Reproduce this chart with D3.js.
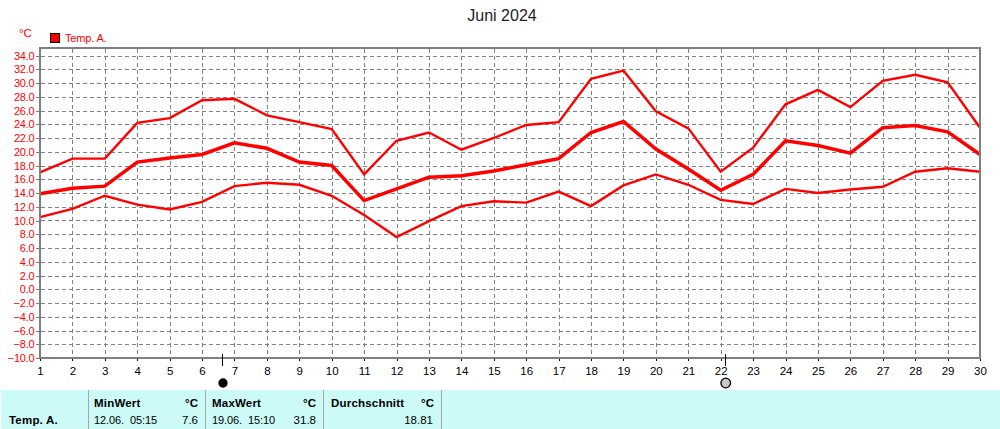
<!DOCTYPE html>
<html><head><meta charset="utf-8">
<script src="https://cdn.jsdelivr.net/npm/d3@7/dist/d3.min.js"></script>
<style>html,body{margin:0;padding:0;background:#fff;overflow:hidden}svg{display:block}text{font-family:"Liberation Sans",Arial,sans-serif}</style>
</head><body><svg id="c" width="1000" height="429"></svg>
<script>
const days = d3.range(1, 31);
const maxValues = [17,19,19,24.2,24.9,27.5,27.7,25.3,24.3,23.3,16.7,21.6,22.8,20.3,22,23.9,24.3,30.6,31.8,25.9,23.4,17.1,20.6,26.9,29,26.5,30.3,31.2,30.1,23.5];
const meanValues = [13.9,14.7,15,18.5,19.1,19.6,21.3,20.5,18.5,18,12.9,14.6,16.3,16.5,17.2,18.1,19,22.8,24.4,20.4,17.5,14.4,16.7,21.6,20.9,19.8,23.5,23.8,22.9,19.6];
const minValues = [10.5,11.7,13.6,12.3,11.6,12.7,15,15.5,15.2,13.6,10.8,7.6,9.9,12.1,12.8,12.6,14.2,12.1,15.1,16.7,15.2,13,12.4,14.6,14,14.5,14.9,17.1,17.6,17.1];
const yTicks = d3.range(-10, 36, 2).reverse();
const markers = [{day:6.63, fill:"#000", r:4},{day:22.14, fill:"#c8c8c8", r:4.8}];
const summaryHeads = [
 {t:"MinWert", x:94, unit:"°C", ux:198},
 {t:"MaxWert", x:212, unit:"°C", ux:316},
 {t:"Durchschnitt", x:331, unit:"°C", ux:434}];
const summaryRows = [
 {t:"12.06.  05:15", x:94, v:"7.6", vx:198},
 {t:"19.06.  15:10", x:212, v:"31.8", vx:316},
 {t:"", x:330, v:"18.81", vx:433}];
const dividers = [88,205,323,441];

const svg = d3.select("#c");
const x = d3.scaleLinear().domain([1,30]).range([40,980]);
const y = d3.scaleLinear().domain([-10,34]).range([358,55.5]);
const RED = "#ff0000", GRID="#808080";

svg.append("text").attr("x",502).attr("y",21).attr("text-anchor","middle").attr("font-size",16).attr("fill","#222").text("Juni 2024");
svg.append("text").attr("x",19).attr("y",37).attr("font-size",11.5).attr("fill",RED).text("°C");
svg.append("rect").attr("x",50.5).attr("y",33.5).attr("width",9).attr("height",9).attr("fill",RED).attr("stroke","#000");
svg.append("text").attr("x",65).attr("y",42).attr("font-size",11).attr("letter-spacing","-0.15").attr("fill",RED).text("Temp. A.");

// grid
const g = svg.append("g").attr("stroke",GRID).attr("stroke-dasharray","4 3").attr("shape-rendering","crispEdges");
g.selectAll("line.h").data(yTicks.filter(d=>d<=34&&d>-10)).join("line").attr("class","h")
 .attr("x1",41).attr("x2",979).attr("y1",d=>Math.round(y(d))+.5).attr("y2",d=>Math.round(y(d))+.5);
g.selectAll("line.v").data(days.slice(1,-1)).join("line").attr("class","v")
 .attr("y1",49).attr("y2",357).attr("x1",d=>Math.round(x(d))+.5).attr("x2",d=>Math.round(x(d))+.5);

// axes
const yAxis = d3.axisLeft(y).tickValues(yTicks.filter(d=>d<=34)).tickSize(4).tickPadding(1.5).tickFormat(d3.format(".1f"));
const ya = svg.append("g").attr("transform","translate(40,0)").call(yAxis);
ya.select(".domain").remove();
ya.selectAll("line").attr("stroke",GRID).attr("shape-rendering","crispEdges");
ya.selectAll("text").attr("fill",RED).attr("font-size",11).attr("letter-spacing","-0.2").attr("font-family","Liberation Sans");

const xAxis = d3.axisBottom(x).tickValues(days).tickSize(3).tickPadding(6).tickFormat(d3.format("d"));
const xa = svg.append("g").attr("transform","translate(0,358)").call(xAxis);
xa.select(".domain").remove();
xa.selectAll("line").attr("stroke","#000").attr("shape-rendering","crispEdges");
xa.selectAll("text").attr("fill","#000").attr("font-size",11.5).attr("font-family","Liberation Sans");

// lines
const line = d3.line().x((d,i)=>x(days[i])).y(d=>y(d));
[[maxValues,2.4],[meanValues,3.5],[minValues,2.4]].forEach(([v,w])=>{
 svg.append("path").attr("d",line(v)).attr("fill","none").attr("stroke",RED).attr("stroke-width",w);
});

// frame
svg.append("rect").attr("x",40).attr("y",48).attr("width",940).attr("height",310).attr("fill","none").attr("stroke",GRID).attr("stroke-width",2).attr("shape-rendering","crispEdges");
svg.append("rect").attr("x",981).attr("y",40).attr("width",19).attr("height",320).attr("fill","#fff");

// markers
markers.forEach(m=>{
 svg.append("line").attr("x1",Math.round(x(m.day))+.5).attr("x2",Math.round(x(m.day))+.5).attr("y1",354).attr("y2",366).attr("stroke","#000").attr("shape-rendering","crispEdges");
 svg.append("circle").attr("cx",x(m.day)+.5).attr("cy",383).attr("r",m.r).attr("fill",m.fill).attr("stroke","#000").attr("stroke-width",1.3);
});

// table
svg.append("rect").attr("x",1).attr("y",390).attr("width",999).attr("height",39).attr("fill","#ccfaf7");
dividers.forEach(d=>svg.append("rect").attr("x",d).attr("y",390).attr("width",1).attr("height",39).attr("fill","#a0a8a8"));
svg.append("text").attr("x",9).attr("y",424).attr("font-size",11.5).attr("font-weight","bold").attr("letter-spacing","0.2").attr("fill","#000").text("Temp. A.");
summaryHeads.forEach(h=>{
 svg.append("text").attr("x",h.x).attr("y",407).attr("font-size",11.5).attr("font-weight","bold").attr("letter-spacing","0.2").text(h.t);
 svg.append("text").attr("x",h.ux).attr("y",407).attr("text-anchor","end").attr("font-size",11.5).attr("font-weight","bold").text(h.unit);
});
summaryRows.forEach(r=>{
 svg.append("text").attr("x",r.x).attr("y",424).attr("font-size",11).attr("letter-spacing","-0.1").style("white-space","pre").text(r.t);
 svg.append("text").attr("x",r.vx).attr("y",424).attr("text-anchor","end").attr("font-size",11.5).text(r.v);
});
</script></body></html>
